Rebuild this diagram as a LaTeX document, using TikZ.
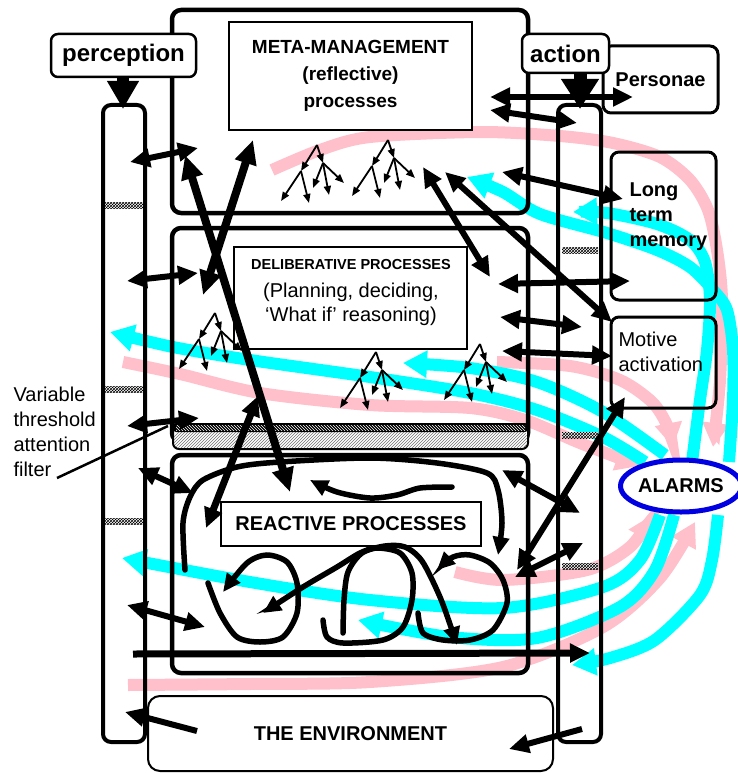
\documentclass[tikz,border=0pt]{standalone}
\usepackage{fontspec}
\setmainfont{Liberation Sans}
\usetikzlibrary{arrows.meta,patterns,shapes.geometric}
\definecolor{pinkb}{RGB}{255,192,203}
\definecolor{cyanb}{RGB}{0,255,255}
\definecolor{alarmblue}{RGB}{0,0,225}
\tikzset{
 outerbox/.style={draw, line width=4.5pt, rounded corners=9pt},
 innerbox/.style={draw, line width=2pt, fill=white, inner sep=0pt},
 colbox/.style={draw, line width=4pt, rounded corners=8pt},
 labbox/.style={draw, line width=2.5pt, rounded corners=7pt, fill=white, inner sep=0pt},
 sidebox/.style={draw, line width=3pt, rounded corners=8pt, inner sep=0pt},
 dbl/.style={line width=6pt, {Triangle[length=20pt,width=18pt]}-{Triangle[length=20pt,width=18pt]}},
 sgl/.style={line width=6pt, -{Triangle[length=20pt,width=18pt]}},
 bigdbl/.style={line width=8pt, {Triangle[length=24pt,width=21pt]}-{Triangle[length=24pt,width=21pt]}},
 loopy/.style={line width=5.5pt, -{Triangle[length=18pt,width=16pt]}, line cap=round},
 tarr/.style={line width=1.8pt, -{Triangle[length=9pt,width=7pt]}},
 cband/.style={line width=12pt, draw=cyanb, -{Triangle[length=24pt,width=26pt]}},
 pband/.style={line width=12pt, draw=pinkb, -{Triangle[length=24pt,width=26pt]}},
 hatchp/.style={pattern=crosshatch},
 bigtxt/.style={font=\bfseries\fontsize{24}{28}\selectfont},
 txtn/.style={font=\fontsize{20}{25}\selectfont},
 txtb/.style={font=\bfseries\fontsize{20}{25}\selectfont},
 tree/.pic={
  \draw[tarr] (0,0) -- (-16,26);
  \draw[tarr] (0,0) -- (6,18);
  \draw[tarr] (-16,26) -- (-36,56);
  \draw[tarr] (-16,26) -- (-8,58);
  \draw[tarr] (6,18) -- (-4,43);
  \draw[tarr] (6,18) -- (12,50);
  \draw[tarr] (6,18) -- (27,38);
 }
}
\begin{document}
\begin{tikzpicture}[x=1pt,y=-1pt]
\useasboundingbox (0,0) rectangle (738,773);
\fill[white] (0,0) rectangle (738,773);

% ---------- coloured streams ----------
\draw[pband] plot[smooth] coordinates {(272,170) (320,150) (370,137) (480,132) (560,136) (613,143) (660,157) (690,180) (708,210) (717,250) (722,300) (720,380) (713,447)};
\draw[pband] plot[smooth] coordinates {(123,362) (180,374) (260,393) (370,405) (470,408) (525,420) (580,443) (640,466)};
\draw[pband] plot[smooth] coordinates {(497,362) (570,366) (620,380) (652,402) (667,425) (673,447)};
\draw[pband] plot[smooth] coordinates {(128,685) (250,684) (370,682) (503,667) (603,627) (660,578) (695,522)};
\draw[pband] plot[smooth] coordinates {(455,572) (503,580) (587,570) (630,547) (652,515)};

\draw[cband] plot[smooth] coordinates {(645,462) (603,437) (537,410) (470,393) (370,377) (250,360) (173,347) (110,332)};
\draw[cband] plot[smooth] coordinates {(665,455) (603,412) (537,382) (470,368) (403,363)};
\draw[cband] plot[smooth] coordinates {(692,462) (700,400) (707,350) (710,300) (705,262) (690,240) (657,224) (607,213) (573,212)};
\draw[cband] plot[smooth] coordinates {(729,462) (733,400) (733,350) (727,310) (713,290) (690,267) (657,250) (607,233) (540,214) (503,192) (467,177)};
\draw[cband] plot[smooth] coordinates {(660,515) (640,560) (603,587) (503,608) (370,600) (250,582) (122,558)};
\draw[cband] plot[smooth] coordinates {(674,515) (655,570) (620,607) (537,638) (450,637) (358,620)};
\draw[cband] plot[smooth] coordinates {(718,515) (712,560) (700,595) (655,640) (610,658) (572,665)};

% ---------- columns and boxes ----------
\draw[outerbox] (172,10) rectangle (528,213);
\draw[outerbox] (172,228) rectangle (528,442);
\draw[outerbox] (172,455) rectangle (528,673);
\draw[colbox] (103,105) rectangle (145,742);
\draw[colbox] (558,105) rectangle (601,742);

% filter bar
\draw[line width=2pt, rounded corners=6pt, fill=white] (173,424) rectangle (528,449);
\fill[pattern=north east lines, pattern color=black!55, rounded corners=6pt] (174,431) rectangle (527,448);
\fill[black, rounded corners=3pt] (173,423) rectangle (528,432);
\fill[pattern=north west lines, pattern color=white] (176,425) rectangle (525,430);

% small filters on columns
\foreach \y in {202,386,518} {\fill[white] (105,\y) rectangle (143,\y+6); \fill[hatchp] (105,\y) rectangle (143,\y+6);}
\foreach \y in {247,432,563} {\fill[white] (562,\y) rectangle (598,\y+6); \fill[hatchp] (562,\y) rectangle (598,\y+6);}

\node[innerbox, minimum width=243pt, minimum height=108pt, align=center, font=\bfseries\fontsize{19}{27}\selectfont] (meta) at (350.5,76) {META-MANAGEMENT\\(reflective)\\processes};
\node[innerbox, minimum width=233pt, minimum height=102pt] (delib) at (350.5,298) {};
\node[font=\bfseries\fontsize{14.5}{17}\selectfont] (deltitle) at (351,265) {DELIBERATIVE PROCESSES};
\node[txtn] (del1) at (351,292) {(Planning, deciding,};
\node[txtn] (del2) at (351,316) {‘What if’ reasoning)};
\node[innerbox, minimum width=260pt, minimum height=44pt, txtb] (react) at (351,524) {REACTIVE PROCESSES};
\node[draw, line width=2pt, rounded corners=12pt, fill=white, minimum width=405pt, minimum height=75pt, inner sep=0pt, txtb] (env) at (350.5,733.5) {THE ENVIRONMENT};

\node[sidebox, minimum width=115pt, minimum height=67pt, txtb] (pers) at (660.5,79.5) {Personae};
\node[sidebox, minimum width=105pt, minimum height=148pt] (ltm) at (663.5,226) {};
\node[txtb, align=left, anchor=west] (ltmtxt) at (626,217) {Long\\term\\memory};
\node[sidebox, minimum width=105pt, minimum height=91pt] (motive) at (663.5,362.5) {};
\node[txtn, align=left, anchor=west] (mottxt) at (615,351.5) {Motive\\activation};

% labels
\node[labbox, minimum width=145pt, minimum height=43pt, bigtxt] (plab) at (123.5,55.5) {perception};
\node[labbox, minimum width=87pt, minimum height=39pt, bigtxt] (alab) at (565.5,53.5) {action};
\coordinate (ptip) at (123,109);
\coordinate (atip) at (580,109);
\draw[line width=12pt, -{Triangle[length=28pt,width=30pt]}] (ptip |- plab.south) -- (ptip);
\draw[line width=13pt, -{Triangle[length=30pt,width=36pt]}] (atip |- alab.south) -- (atip);

% ---------- trees ----------
\pic at (317,145) {tree};
\pic at (388,140) {tree};
\pic at (215,313) {tree};
\pic at (376,352) {tree};
\pic at (480,344) {tree};

% ---------- reactive loops ----------
\draw[loopy] plot[smooth] coordinates {(185,570) (183,523) (190,497) (203,480) (237,467) (280,462) (370,458) (437,463) (487,473) (498,490) (502,523) (498,555)};
\draw[loopy] plot[smooth] coordinates {(452,487) (420,488) (397,495) (370,498) (337,492) (310,480)};
\draw[loopy] plot[smooth] coordinates {(208,583) (220,613) (237,637) (260,642) (283,637) (297,613) (297,583) (287,562) (267,555) (247,563) (223,592)};
\draw[loopy] plot[smooth] coordinates {(323,620) (327,637) (343,643) (383,640) (403,627) (412,600) (412,573) (400,553) (377,548) (360,553) (337,567) (303,587) (263,613)};
\draw[loopy] plot[smooth] coordinates {(343,633) (344,600) (348,572) (362,553) (385,546) (405,547) (422,561) (440,597) (453,633) (457,645)};
\draw[loopy] plot[smooth] coordinates {(418,613) (423,633) (443,640) (470,640) (493,630) (507,603) (503,580) (490,563) (470,555) (453,557) (437,570)};

% ---------- black connectors ----------
\draw[dbl] (130,162) -- (198,148);
\draw[dbl] (127,281) -- (198,273);
\draw[dbl] (127,426) -- (199,418);
\draw[dbl] (138,468) -- (193,493);
\draw[dbl] (127,605) -- (205,627);
\draw[line width=7pt, -{Triangle[length=20pt,width=18pt]}] (133,654) -- (590,653);
\draw[sgl] (197,731) -- (125,712);
\draw[sgl] (582,729) -- (509,749);
\draw[dbl] (490,97) -- (633,97);
\draw[dbl] (490,110) -- (577,123);
\draw[dbl] (502,172) -- (623,199);
\draw[dbl] (423,167) -- (490,277);
\draw[dbl] (445,172) -- (612,322);
\draw[dbl] (498,284) -- (630,281);
\draw[dbl] (500,317) -- (582,327);
\draw[dbl] (502,351) -- (612,356);
\draw[dbl] (517,570) -- (625,397);
\draw[dbl] (502,470) -- (580,513);
\draw[dbl] (515,577) -- (583,543);
\draw[bigdbl] (203,295) -- (253,140);
\draw[bigdbl] (185,155) -- (290,492);
\draw[dbl, line width=7pt] (206,528) -- (258,396);

% attention filter label
\node[txtn, align=left, anchor=west] (vtaf) at (10,432) {Variable\\threshold\\attention\\filter};
\draw[line width=2.5pt] (57,478) -- (168,426);

% alarms
\node[ellipse, draw=alarmblue, line width=5pt, fill=white, minimum width=112pt, minimum height=52pt, inner sep=0pt, txtb] (alarms) at (681,486) {ALARMS};
\end{tikzpicture}
\end{document}
